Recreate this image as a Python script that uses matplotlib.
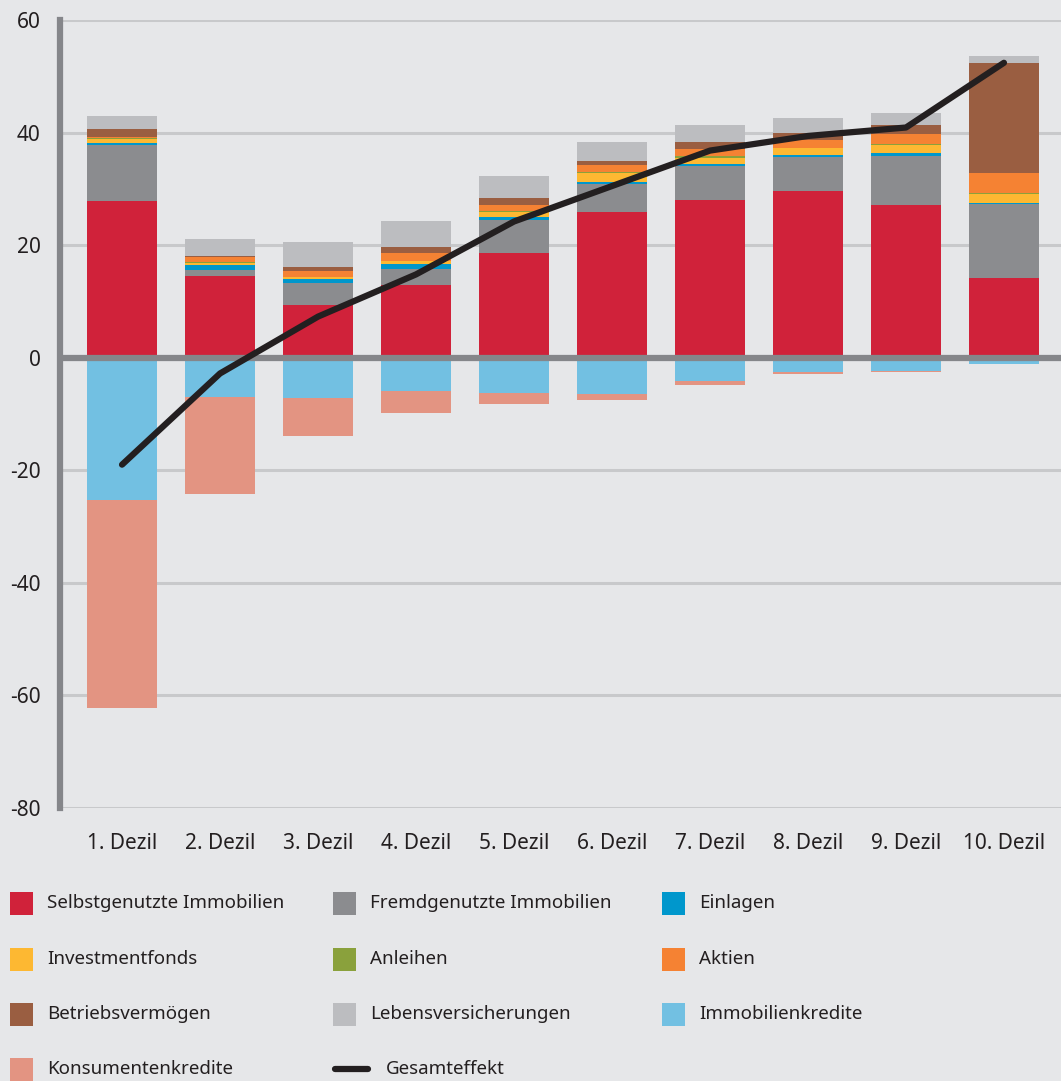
import numpy as np
import matplotlib
matplotlib.use("Agg")
import matplotlib.pyplot as plt
from matplotlib.patches import Rectangle
from matplotlib.lines import Line2D

plt.rcParams["axes.unicode_minus"] = False

# data
dezile = ["1. Dezil", "2. Dezil", "3. Dezil", "4. Dezil", "5. Dezil",
          "6. Dezil", "7. Dezil", "8. Dezil", "9. Dezil", "10. Dezil"]

selbstgenutzt = [27.9, 14.6, 9.4, 13.0, 18.6, 25.8, 28.1, 29.7, 27.2, 14.2]
fremdgenutzt = [9.9, 0.9, 3.9, 2.8, 5.9, 5.0, 6.0, 5.9, 8.7, 13.1]
einlagen = [0.35, 0.9, 0.7, 0.9, 0.5, 0.5, 0.35, 0.35, 0.5, 0.2]
investmentfonds = [0.75, 0.5, 0.35, 0.5, 0.9, 1.6, 1.05, 1.25, 1.4, 1.6]
anleihen = [0.05, 0.05, 0.05, 0.05, 0.2, 0.1, 0.25, 0.1, 0.2, 0.2]
aktien = [0.3, 0.9, 1.05, 1.4, 1.1, 1.2, 1.4, 1.4, 1.8, 3.6]
betriebsvermoegen = [1.4, 0.2, 0.7, 1.1, 1.2, 0.7, 1.2, 1.2, 1.6, 19.5]
lebensversicherungen = [2.3, 3.0, 4.4, 4.6, 3.9, 3.4, 3.0, 2.7, 2.1, 1.2]
immobilienkredite = [-25.2, -6.9, -7.2, -5.9, -6.2, -6.4, -4.1, -2.5, -2.3, -1.2]
konsumentenkredite = [-37.0, -17.3, -6.7, -3.9, -2.1, -1.1, -0.7, -0.4, -0.3, 0.0]
gesamteffekt = [-19.0, -2.8, 7.3, 14.8, 24.2, 30.5, 36.8, 39.4, 40.9, 52.4]

pos_series = [
    ("Selbstgenutzte Immobilien", selbstgenutzt, "#d0223a"),
    ("Fremdgenutzte Immobilien", fremdgenutzt, "#8b8c8f"),
    ("Einlagen", einlagen, "#0097cc"),
    ("Investmentfonds", investmentfonds, "#fdb832"),
    ("Anleihen", anleihen, "#8aa13c"),
    ("Aktien", aktien, "#f58233"),
    ("Betriebsvermögen", betriebsvermoegen, "#9a5e41"),
    ("Lebensversicherungen", lebensversicherungen, "#bcbdc0"),
]
neg_series = [
    ("Immobilienkredite", immobilienkredite, "#72c0e2"),
    ("Konsumentenkredite", konsumentenkredite, "#e39482"),
]

bg = "#e6e7e9"
tick_font = ["Noto Sans", "DejaVu Sans"]
leg_font = ["Noto Sans", "DejaVu Sans"]

fig = plt.figure(figsize=(10.61, 10.81), dpi=100, facecolor=bg)
ax = fig.add_axes([60 / 1061, (1081 - 808) / 1081, 1 - 60 / 1061, (808 - 20) / 1081])
ax.set_facecolor(bg)

x = np.arange(len(dezile))
w = 0.714

bottom = np.zeros(len(x))
for name, vals, col in pos_series:
    v = np.array(vals)
    ax.bar(x, v, w, bottom=bottom, color=col, linewidth=0, zorder=2)
    bottom += v

bottom = np.zeros(len(x))
for name, vals, col in neg_series:
    v = np.array(vals)
    ax.bar(x, v, w, bottom=bottom, color=col, linewidth=0, zorder=2)
    bottom += v

ax.plot(x, gesamteffekt, color="#231f20", lw=4.5, solid_capstyle="round",
        solid_joinstyle="round", zorder=4)

ax.set_ylim(-80, 60)
ax.set_xlim(-0.633, 9.582)
ax.set_yticks(np.arange(-80, 61, 20))
ax.yaxis.grid(True, color="#c8c9cb", lw=2.2, zorder=0)
ax.set_axisbelow(True)
ax.axhline(0, color="#85868a", lw=4.5, zorder=3)

for s in ["top", "right", "bottom"]:
    ax.spines[s].set_visible(False)
ax.spines["left"].set_color("#85868a")
ax.spines["left"].set_linewidth(4.5)

ax.tick_params(axis="both", length=0, labelsize=15, colors="#231f20")
ax.tick_params(axis="y", pad=14)
ax.tick_params(axis="x", pad=18)
ax.set_xticks(x)
ax.set_xticklabels(dezile, family=tick_font)
for lab in ax.get_yticklabels():
    lab.set_family(tick_font)

# legend laid out as in the reference (3 columns, row-wise)
legend_items = [name for name, _, _ in pos_series + neg_series]
legend_cols = [c for _, _, c in pos_series + neg_series]
col_x = [10, 333, 662]
row_y = [903, 959, 1014, 1069]
W, H = 1061, 1081
for i, (name, col) in enumerate(zip(legend_items, legend_cols)):
    r, c = divmod(i, 3)
    px, py = col_x[c], row_y[r]
    fig.patches.append(Rectangle((px / W, 1 - (py + 11.5) / H), 23 / W, 23 / H,
                                 transform=fig.transFigure, color=col, lw=0))
    fig.text((px + 37) / W, 1 - py / H, name, va="center", ha="left",
             fontsize=13.5, family=leg_font, color="#231f20")

# Gesamteffekt entry
py = row_y[3]
fig.lines.append(Line2D([335 / W, 368 / W], [1 - py / H, 1 - py / H],
                        transform=fig.transFigure, color="#231f20", lw=4.5,
                        solid_capstyle="round"))
fig.text(386 / W, 1 - py / H, "Gesamteffekt", va="center", ha="left",
         fontsize=13.5, family=leg_font, color="#231f20")

fig.savefig("out.png", dpi=100, facecolor=bg)
